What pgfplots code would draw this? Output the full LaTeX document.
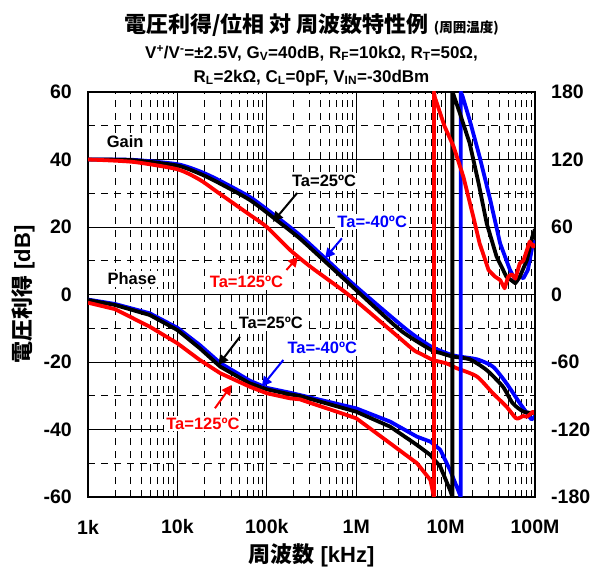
\documentclass[border=0pt]{standalone}
\usepackage{fontspec}
\setmainfont{Liberation Sans}
\newfontfamily\jp{Noto Sans CJK JP}
\usepackage{pgfplots}
\usepackage{pgfplotstable}
\pgfplotsset{compat=1.18}
\usetikzlibrary{arrows.meta}

\definecolor{cblue}{RGB}{0,0,255}
\definecolor{cred}{RGB}{255,0,0}

% ---- voltage gain [dB] ----
\pgfplotstableread{
f      g
1e3    40
3.16e3 39.9
1e4    38.6
1.78e4 36.5
2.75e4 34.2
6.46e4 28.9
1.29e5 23.0
2.34e5 17.6
4.47e5 10.8
1e6    2.3
3.63e6 -10.3
6.76e6 -15.3
1.20e7 -18.0
2.24e7 -19.2
3.39e7 -21.4
4.79e7 -26.3
6.76e7 -32.2
8.32e7 -35.5
9.12e7 -37.0
1e8    -36.0
}\gainblue
\pgfplotstableread{
f      g
1e3    40
3.16e3 39.8
1e4    38.2
1.78e4 35.8
2.75e4 33.4
6.46e4 28.0
1.29e5 22.0
2.34e5 16.6
4.47e5 9.8
1e6    1.3
3.09e6 -10.5
6.76e6 -16.3
8.71e6 -17.3
1.20e7 -18.4
1.86e7 -19.2
2.88e7 -22.4
4.37e7 -27.3
5.62e7 -32.2
7.41e7 -34.7
9.55e7 -35.1
1e8    -35.0
}\gainblack
\pgfplotstableread{
f      g
1e3    40
3.16e3 39.3
1e4    37.1
1.78e4 34.0
2.75e4 30.5
6.46e4 23.6
1e5    20.0
1.82e5 13.2
3.16e5 8.0
8.13e5 0
2.40e6 -10.5
4.37e6 -16.4
5.13e6 -17.4
7.24e6 -19.4
1.02e7 -20.4
1.32e7 -21.8
2.24e7 -24.3
3.39e7 -29.3
4.79e7 -33.2
6.17e7 -36.7
7.40e7 -36.0
8.13e7 -36.2
9.55e7 -34.7
1e8    -35.5
}\gainred

% ---- phase [deg] ----
\pgfplotstableread{
f      p
1e3    -4.5
2e3    -8.4
4.9e3  -16.7
1e4    -29.6
1.78e4 -44.9
3.02e4 -61
6.46e4 -76.6
1e5    -83
1.82e5 -87.3
1e6    -101.2
2.4e6  -113
4.79e6 -126.4
6.76e6 -130.8
8.71e6 -138
1.12e7 -156
1.35e7 -172
1.48e7 -180
1.48e7 180
1.55e7 176
1.86e7 155
2.40e7 122.5
3.16e7 84
4.07e7 45.5
5.25e7 21.8
6.17e7 11.4
6.76e7 16
7.41e7 14.4
8.32e7 21.8
9.33e7 42.5
1e8    48
}\phaseblue
\pgfplotstableread{
f      p
1e3    -4.9
2e3    -9.3
4.9e3  -18.2
1e4    -31.6
1.78e4 -47.8
3.02e4 -64.2
6.46e4 -79
1e5    -84.3
1.82e5 -88.8
2.34e5 -90.2
1e6    -104.2
2.4e6  -117.5
4.79e6 -133.8
6.76e6 -142.7
8.71e6 -153
1.12e7 -173.8
1.19e7 -180
1.19e7 180
1.23e7 177.3
1.445e7 161
1.86e7 134.4
2.34e7 98.8
2.88e7 63.3
3.72e7 33.6
4.79e7 15.8
6.03e7 10
6.76e7 15.8
8.13e7 30.7
9.33e7 51.4
1e8    58
}\phaseblack
\pgfplotstableread{
f      p
1e3    -7.3
2e3    -13
4.9e3  -28.6
1e4    -43.4
1.78e4 -58.2
3.02e4 -70
6.46e4 -82
1e5    -87.8
1.82e5 -92.3
2.34e5 -93.2
1e6    -110
2.4e6  -132.3
4.79e6 -150
6.76e6 -164.9
7.4e6  -180
7.4e6  180
7.6e6  175
9.77e6 149.2
1.23e7 131.4
1.58e7 104.7
2.04e7 69.2
2.40e7 45.5
3.02e7 21.8
3.55e7 16
4.07e7 12.9
4.57e7 5.5
5.01e7 15.8
5.5e7  18
6.03e7 14
6.76e7 27.7
7.41e7 30
8.13e7 39.6
8.71e7 47
9.55e7 42.5
1e8    45
}\phasered

\begin{document}
\begin{tikzpicture}[
  lbl/.style={font=\fontsize{16.5bp}{18bp}\selectfont\bfseries, fill=white, inner sep=2bp},
  arr/.style={line width=2bp, -{Triangle[length=10bp,width=10bp]}},
  crv/.style={line width=3.8bp, line join=round},
]
\begin{axis}[
  scale only axis, width=447bp, height=405bp,
  xmode=log, xmin=1000, xmax=100000000,
  ymin=-60, ymax=60,
  major tick length=0pt, minor tick length=0pt,
  axis line style={black, line width=1.6bp},
  tick label style={font=\fontsize{19.5bp}{21bp}\selectfont\bfseries, inner sep=0pt},
  xtick={1e3,1e4,1e5,1e6,1e7,1e8},
  xticklabels={1k,10k,100k,1M,10M,100M},
  minor xtick={2e3,3e3,4e3,5e3,6e3,7e3,8e3,9e3,
               2e4,3e4,4e4,5e4,6e4,7e4,8e4,9e4,
               2e5,3e5,4e5,5e5,6e5,7e5,8e5,9e5,
               2e6,3e6,4e6,5e6,6e6,7e6,8e6,9e6,
               2e7,3e7,4e7,5e7,6e7,7e7,8e7,9e7},
  ytick={-60,-40,-20,0,20,40,60},
  yticklabels={-60,-40,-20,0,20,40,60},
  minor ytick={-50,-30,-10,10,30,50},
  grid=both,
  major grid style={black, line width=1bp},
  minor grid style={black, line width=0.8bp, dash pattern=on 7bp off 6bp},
  xtick pos=bottom, ytick pos=left,
  xticklabel style={anchor=center, yshift=-30bp},
  yticklabel style={anchor=east, xshift=-16bp},
]
% gain curves, lightly smoothed
\addplot[crv, cblue, no markers, smooth, tension=0.4] table[x=f, y=g] {\gainblue};
\addplot[crv, black, no markers, smooth, tension=0.4] table[x=f, y=g] {\gainblack};
\addplot[crv, cred, no markers, smooth, tension=0.4] table[x=f, y=g] {\gainred};

\node[lbl] at (axis cs:2.6e3,45.2) {Gain};
\node[lbl] at (axis cs:3.1e3,4.6) {Phase};

\draw[arr, black] (axis cs:2.19e5,30.1) -- (axis cs:1.17e5,21.5);
\node[lbl, text=black] at (axis cs:4.37e5,33.6) {Ta=25ºC};
\draw[arr, cblue] (axis cs:6.92e5,16.65) -- (axis cs:4.47e5,10.7);
\node[lbl, text=cblue] at (axis cs:1.51e6,21.6) {Ta=-40ºC};
\draw[arr, cred] (axis cs:1.66e5,7.26) -- (axis cs:2.24e5,11.2);
\node[lbl, text=cred] at (axis cs:5.93e4,3.8) {Ta=125ºC};
\end{axis}

\begin{axis}[
  scale only axis, width=447bp, height=405bp,
  xmode=log, xmin=1000, xmax=100000000,
  ymin=-180, ymax=180,
  hide x axis,
  axis y line*=right,
  major tick length=0pt, minor tick length=0pt,
  axis line style={black, line width=1.6bp},
  tick label style={font=\fontsize{19.5bp}{21bp}\selectfont\bfseries, inner sep=0pt},
  ytick={-180,-120,-60,0,60,120,180},
  yticklabels={-180,-120,-60,0,60,120,180},
  yticklabel style={anchor=west, xshift=16bp},
]
\addplot[crv, cblue, no markers] table[x=f, y=p] {\phaseblue};
\addplot[crv, black, no markers] table[x=f, y=p] {\phaseblack};
\addplot[crv, cred, no markers] table[x=f, y=p] {\phasered};

\draw[arr, black] (axis cs:5.01e4,-37.5) -- (axis cs:2.87e4,-62.7);
\node[lbl, text=black] at (axis cs:1.11e5,-25.1) {Ta=25ºC};
\draw[arr, cblue] (axis cs:1.53e5,-58.2) -- (axis cs:8.77e4,-81.9);
\node[lbl, text=cblue] at (axis cs:4.17e5,-47.7) {Ta=-40ºC};
\draw[arr, cred] (axis cs:2.63e4,-101.1) -- (axis cs:4.05e4,-80.4);
\node[lbl, text=cred] at (axis cs:1.93e4,-114.6) {Ta=125ºC};
\end{axis}

% titles and axis names
\node at (223.5bp,472bp) {\fontsize{22bp}{25bp}\selectfont\jp\bfseries 電圧利得/位相 対 周波数特性例 {\fontsize{13.5bp}{15bp}\selectfont(周囲温度)}};
\node at (223.5bp,444bp) {\fontsize{17bp}{19bp}\selectfont\bfseries V\textsuperscript{+}/V\textsuperscript{-}=±2.5V, G\textsubscript{V}=40dB, R\textsubscript{F}=10kΩ, R\textsubscript{T}=50Ω,};
\node at (223.5bp,419bp) {\fontsize{17bp}{19bp}\selectfont\bfseries R\textsubscript{L}=2kΩ, C\textsubscript{L}=0pF, V\textsubscript{IN}=-30dBm};
\node[rotate=90] at (-65bp,202.5bp) {\fontsize{22bp}{24bp}\selectfont\bfseries{\jp 電圧利得} [dB]};
\node at (223.5bp,-58bp) {\fontsize{22bp}{24bp}\selectfont\bfseries{\jp 周波数} [kHz]};

\pgfresetboundingbox
\path (-88bp,-74bp) rectangle (507bp,497bp);
\end{tikzpicture}
\end{document}
